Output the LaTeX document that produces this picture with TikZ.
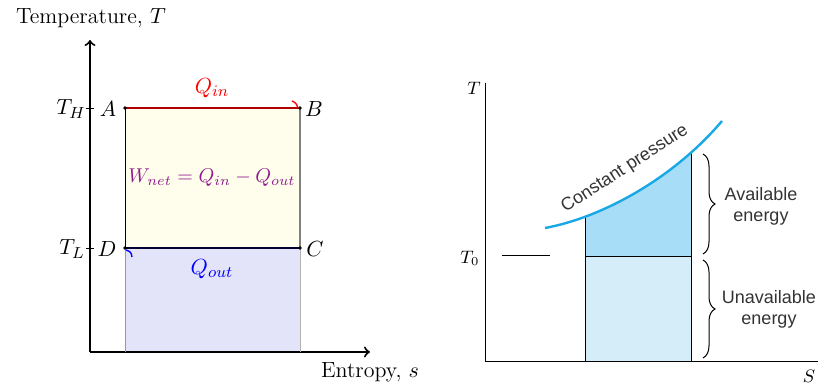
\documentclass[tikz,border=0pt]{standalone}
\usepackage{fontspec}
\setsansfont{Liberation Sans}
\usetikzlibrary{decorations.pathreplacing}

\definecolor{jaune}{HTML}{FFFDEB}
\definecolor{lavande}{HTML}{E3E3FA}
\definecolor{rougefonce}{HTML}{B00000}
\definecolor{violet}{HTML}{8E1C8E}
\definecolor{bleucourbe}{HTML}{18A8E6}
\definecolor{bleuhaut}{HTML}{A8DDF7}
\definecolor{bleubas}{HTML}{D5EDF9}
\definecolor{grisfonce}{HTML}{333333}

\begin{document}
\begin{tikzpicture}[x=0.5pt,y=-0.5pt]

\tikzset{
    axe/.style={line width=1pt,->},
    etiq/.style={font=\fontsize{11}{13}\selectfont},
    petit/.style={font=\fontsize{9}{11}\selectfont},
    sans/.style={font=\sffamily\fontsize{9}{10.5}\selectfont, text=grisfonce, align=center},
    accolade/.style={decorate, decoration={brace, amplitude=6}, line width=0.5pt}
}
\useasboundingbox (0,0) rectangle (827,384);

%diagramme de gauche
\coordinate (O) at (90,352);
\coordinate (A) at (125,108);
\coordinate (B) at (300,108);
\coordinate (C) at (300,248);
\coordinate (D) at (125,248);
\coordinate (Cb) at (300,352);
\coordinate (Db) at (125,352);

\fill[jaune] (A) rectangle (C);
\fill[lavande] (D) rectangle (Cb);

\draw[axe] (O) --++(0,-312);
\draw[axe] (O) --++(280,0);
\node[etiq] (temp) at (91,18) {Temperature, $T$};
\node[etiq] (entr) at (370,372) {Entropy, $s$};

\draw[rougefonce, line width=0.7pt] (A) -- (B);
\draw[black!80!blue, line width=0.7pt] (D) -- (C);
\draw[line width=0.5pt] (A) -- (D);
\draw[gray, line width=0.6pt] (B) -- (C);
\draw[gray!80, line width=0.5pt] (D) -- (Db);
\draw[gray!60, line width=0.5pt] (C) -- (Cb);

\draw (86,108) --++(8,0);
\draw (86,248) --++(8,0);
\foreach \p in {A,B,C,D} \fill (\p) circle (1.8);

\draw[red, line width=0.7pt] (292,101) .. controls (296,103) .. (298,108);
\draw[blue, line width=0.7pt] (126,250) .. controls (131,252) .. (132,257);

\node[etiq] (TH) at (71,109) {$T_H$};
\node[etiq] (lA) at (108,109) {$A$};
\node[etiq] (lB) at (314,109) {$B$};
\node[etiq] (TL) at (72,249) {$T_L$};
\node[etiq] (lD) at (107,249) {$D$};
\node[etiq] (lC) at (315,249) {$C$};
\node[etiq, red] (Qin) at (212,88) {$Q_{in}$};
\node[violet, font=\fontsize{10}{12}\selectfont] (W) at (212,178) {$W_{net}=Q_{in}-Q_{out}$};
\node[etiq, blue] (Qout) at (212,269) {$Q_{out}$};

%diagramme de droite
\coordinate (O2) at (485,362);
\def\courbe{(545,228) .. controls (600,218) and (672,180) .. (722,121)}

\begin{scope}
\clip \courbe -- (722,362) -- (545,362) -- cycle;
\fill[bleuhaut] (585,0) rectangle (691,257);
\fill[bleubas] (585,257) rectangle (691,362);
\draw[line width=0.5pt] (585,0) -- (585,362);
\draw[line width=0.5pt] (691,0) -- (691,362);
\end{scope}
\draw[line width=0.5pt] (585,257) -- (691,257);
\draw[bleucourbe, line width=1.2pt] \courbe;

\draw[line width=0.5pt] (485,83) -- (O2) -- (818,362);
\draw[line width=0.5pt] (502,256) -- (550,256);
\node[petit] (T) at (474,88) {$T$};
\node[petit] (T0) at (470,258) {$T_0$};
\node[petit] (S) at (809,376) {$S$};

\node[sans, rotate=33] (cp) at (625,169) {Constant pressure};

\draw[accolade] (703,154) -- (703,254);
\draw[accolade] (703,260) -- (703,358);
\node[sans] (dispo) at (761,206) {Available\\energy};
\node[sans] (indispo) at (769,309) {Unavailable\\energy};

\end{tikzpicture}
\end{document}
